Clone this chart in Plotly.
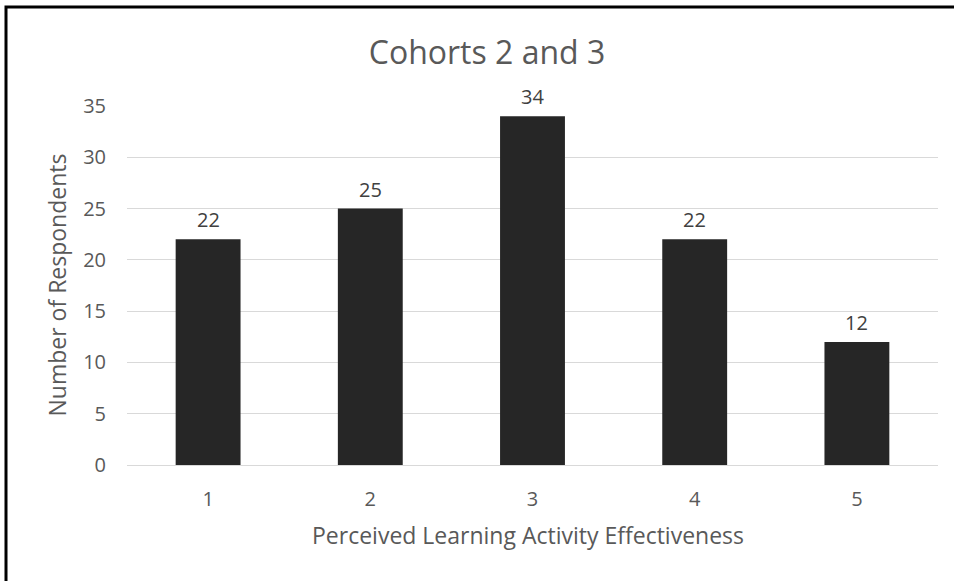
import plotly.graph_objects as go

categories = ["1", "2", "3", "4", "5"]
respondents = [22, 25, 34, 22, 12]
y_ticks = [0, 5, 10, 15, 20, 25, 30, 35]

W, H = 954, 581
L, R, T, B = 127, 16, 106, 116
pw, ph = W - L - R, H - T - B

font_fam = "Open Sans, Liberation Sans, sans-serif"
grey = "#595959"

fig = go.Figure(go.Bar(
    x=categories, y=respondents,
    marker=dict(color="#262626", line=dict(width=0)),
    width=0.4, hoverinfo="skip",
))

# value labels above bars (category axis: position by index)
for i, v in enumerate(respondents):
    fig.add_annotation(x=i, y=v, text=str(v), showarrow=False, yanchor="bottom", yshift=4,
                       font=dict(family=font_fam, size=20, color="#404040"))

fig.update_layout(
    width=W, height=H,
    margin=dict(l=L, r=R, t=T, b=B, autoexpand=False),
    paper_bgcolor="white", plot_bgcolor="white",
    showlegend=False,
    title=dict(text="Cohorts 2 and 3", x=487 / W, xref="container", xanchor="center",
               y=1 - 53 / H, yanchor="middle",
               font=dict(family=font_fam, size=32, color=grey)),
    xaxis=dict(type="category", range=[-0.5, len(categories) - 0.5], showgrid=False,
               showline=True, linecolor="#d9d9d9", linewidth=1,
               ticks="", ticklabelstandoff=16,
               tickfont=dict(family=font_fam, size=20, color=grey)),
    yaxis=dict(range=[0, 35], tickvals=y_ticks, showgrid=True, gridcolor="#d9d9d9", gridwidth=1,
               zeroline=False, ticks="", tickfont=dict(family=font_fam, size=20, color=grey),
               ticklabelstandoff=20),
    font=dict(family=font_fam),
)

# axis titles
fig.add_annotation(xref="paper", yref="paper", x=(528 - L) / pw, y=-(535 - 465) / ph, yanchor="middle",
                   text="Perceived Learning Activity Effectiveness", showarrow=False,
                   font=dict(family=font_fam, size=23, color=grey))
fig.add_annotation(xref="paper", yref="paper", x=-(127 - 56) / pw, y=0.5, xanchor="center",
                   yanchor="middle", textangle=-90,
                   text="Number of Respondents", showarrow=False,
                   font=dict(family=font_fam, size=23, color=grey))

# outer chart border (only top/left edges visible in the frame)
x0 = (6 - L) / pw
y1 = 1 + (T - 7) / ph
fig.add_shape(type="rect", xref="paper", yref="paper", x0=x0, x1=x0 + 1000 / pw, y0=-700 / ph, y1=y1,
              line=dict(color="black", width=3), fillcolor="rgba(0,0,0,0)", layer="above")

fig.write_html("out.html", config={"displayModeBar": False},
               post_script="document.body.style.margin='0';")
